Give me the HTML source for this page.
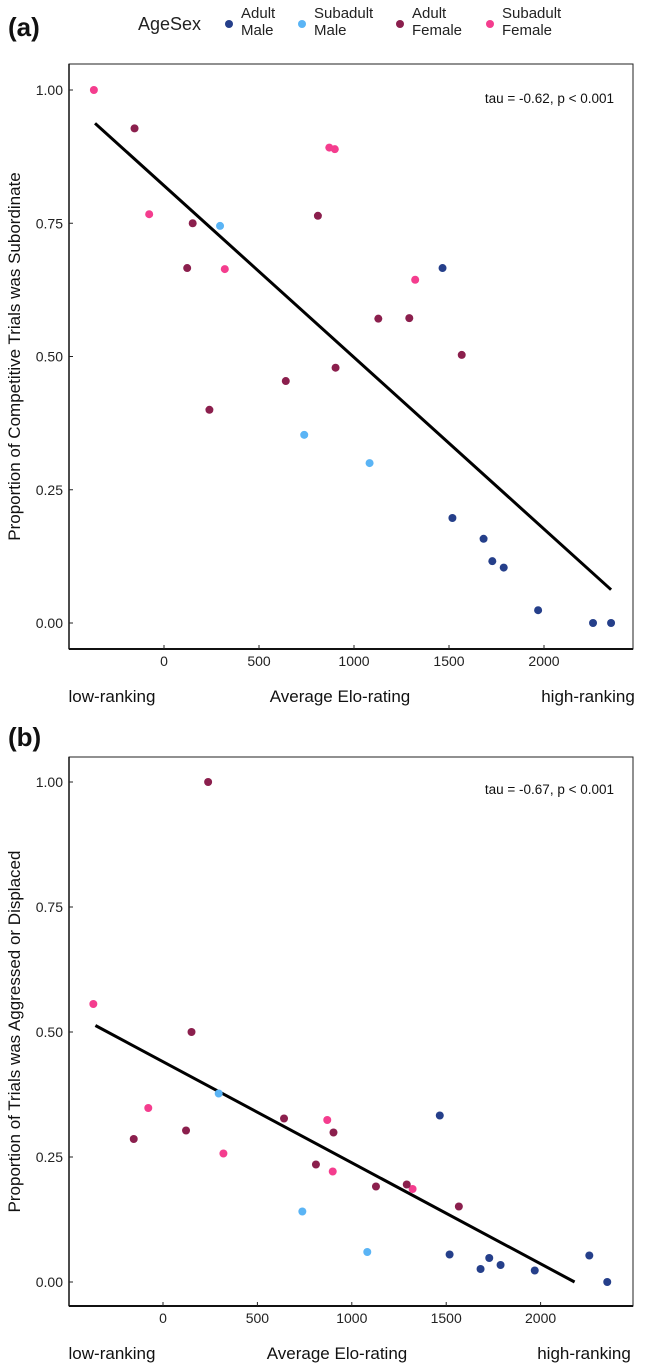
<!DOCTYPE html>
<html><head><meta charset="utf-8">
<style>
body{margin:0;background:#fff;font-family:"Liberation Sans",Arial,sans-serif;}
svg text{font-family:"Liberation Sans",Arial,sans-serif;}
</style></head>
<body>
<svg id="chart" width="649" height="1367" xmlns="http://www.w3.org/2000/svg">
<g id="legend">
<text x="138" y="30" font-size="18" fill="#222">AgeSex</text>
</g>
<text x="8" y="36" font-size="26" font-weight="bold" fill="#111">(a)</text>
<text x="8" y="746" font-size="26" font-weight="bold" fill="#111">(b)</text>
</svg>
<script>
const groups = ["Adult Male","Subadult Male","Adult Female","Subadult Female"];
const colors = ["#253f8a","#5ab4f5","#8b1f4d","#f43d8e"];
const xTicks = [0,500,1000,1500,2000];
const yTicks = [0,0.25,0.5,0.75,1];
const yTickLabels = ["0.00","0.25","0.50","0.75","1.00"];
// points: elo, group index
const elo = [-369,-78,320,870,899,1322, -155,151,122,239,641,810,903,1128,1291,1567, 295,738,1082, 1466,1518,1682,1728,1788,1969,2258,2353];
const grp = [3,3,3,3,3,3, 2,2,2,2,2,2,2,2,2,2, 1,1,1, 0,0,0,0,0,0,0,0];
const propSubordinate = [1.00,0.767,0.664,0.892,0.889,0.644, 0.928,0.75,0.666,0.40,0.454,0.764,0.479,0.571,0.572,0.503, 0.745,0.353,0.300, 0.666,0.197,0.158,0.116,0.104,0.024,0,0];
const propAggressed = [0.556,0.348,0.257,0.324,0.221,0.186, 0.286,0.50,0.303,1.00,0.327,0.235,0.299,0.191,0.195,0.151, 0.377,0.141,0.060, 0.333,0.055,0.026,0.048,0.034,0.023,0.053,0];
const fitA = [[-363,0.9375],[2353,0.0625]];
const fitB = [[-358,0.513],[2180,0.0]];

const NS="http://www.w3.org/2000/svg";
const svg=document.getElementById('chart');
function mk(tag,attrs,parent,txt){const e=document.createElementNS(NS,tag);for(const k in attrs)e.setAttribute(k,attrs[k]);if(txt!==undefined)e.textContent=txt;(parent||svg).appendChild(e);return e;}

// legend
const lx=[229,302,400,490];
const l1=["Adult","Subadult","Adult","Subadult"], l2=["Male","Male","Female","Female"];
const lg=document.getElementById('legend');
groups.forEach((g,i)=>{
  const c=mk('circle',{cx:lx[i],cy:24,r:4,fill:colors[i]},lg);
  
  
  const t=mk('text',{x:lx[i]+12,y:18,'font-size':15,fill:'#222'},lg,l1[i]);
  
  
  const t2=mk('text',{x:lx[i]+12,y:35,'font-size':15,fill:'#222'},lg,l2[i]);
  
  
});

function panel(cfg){
  const g=mk('g',{});
  
  
  const X=v=>cfg.x0+v*cfg.xs;
  const Y=v=>cfg.y0-v*(cfg.y0-cfg.y1);
  const box=mk('rect',{x:69,y:cfg.top,width:633-69,height:cfg.bottom-cfg.top,fill:'none',stroke:'#222','stroke-width':1},g);
  
  
  mk('line',{x1:69,x2:633,y1:cfg.bottom,y2:cfg.bottom,stroke:'#111','stroke-width':2},g);
  mk('line',{x1:69,x2:69,y1:cfg.top,y2:cfg.bottom,stroke:'#111','stroke-width':1.5},g);
  yTicks.forEach((v,i)=>{
    mk('line',{x1:69,x2:73,y1:Y(v),y2:Y(v),stroke:'#222'},g);
    const t=mk('text',{x:63,y:Y(v)+5,'font-size':14,'text-anchor':'end',fill:'#222'},g,yTickLabels[i]);
    
    
  });
  xTicks.forEach(v=>{
    mk('line',{x1:X(v),x2:X(v),y1:cfg.bottom,y2:cfg.bottom-4,stroke:'#222'},g);
    const t=mk('text',{x:X(v),y:cfg.bottom+17,'font-size':14,'text-anchor':'middle',fill:'#222'},g,String(v));
    
    
  });
  const yt=mk('text',{x:0,y:0,'font-size':17,'text-anchor':'middle',fill:'#111',transform:`translate(20,${(cfg.top+cfg.bottom)/2}) rotate(-90)`},g,cfg.ytitle);
  
  
  const labs=[["low-ranking",112,'x-axis-low-label'],["Average Elo-rating",cfg.midX,'x-axis-title'],["high-ranking",cfg.hiX,'x-axis-high-label']];
  labs.forEach(l=>{
    const t=mk('text',{x:l[1],y:cfg.labY,'font-size':17,'text-anchor':'middle',fill:'#111'},g,l[0]);
    
    
  });
  const st=mk('text',{x:614,y:cfg.tauY,'font-size':13.5,'text-anchor':'end',fill:'#111'},g,cfg.tau);
  
  
  const fl=mk('line',{x1:X(cfg.fit[0][0]),y1:Y(cfg.fit[0][1]),x2:X(cfg.fit[1][0]),y2:Y(cfg.fit[1][1]),stroke:'#000','stroke-width':3},g);
  
  
  elo.forEach((e,i)=>{
    const c=mk('circle',{cx:X(e),cy:Y(cfg.vals[i]),r:4,fill:colors[grp[i]]},g);
    
    
  });
}
panel({name:'panel-a',x0:164,xs:95/500,y0:623,y1:90,top:64,bottom:649,labY:702,midX:340,hiX:588,tauY:103,tau:'tau = -0.62, p < 0.001',
  ytitle:'Proportion of Competitive Trials was Subordinate',vals:propSubordinate,fit:fitA});
panel({name:'panel-b',x0:163,xs:94.4/500,y0:1282,y1:782,top:757,bottom:1306,labY:1359,midX:337,hiX:584,tauY:794,tau:'tau = -0.67, p < 0.001',
  ytitle:'Proportion of Trials was Aggressed or Displaced',vals:propAggressed,fit:fitB});
</script>
</body></html>
